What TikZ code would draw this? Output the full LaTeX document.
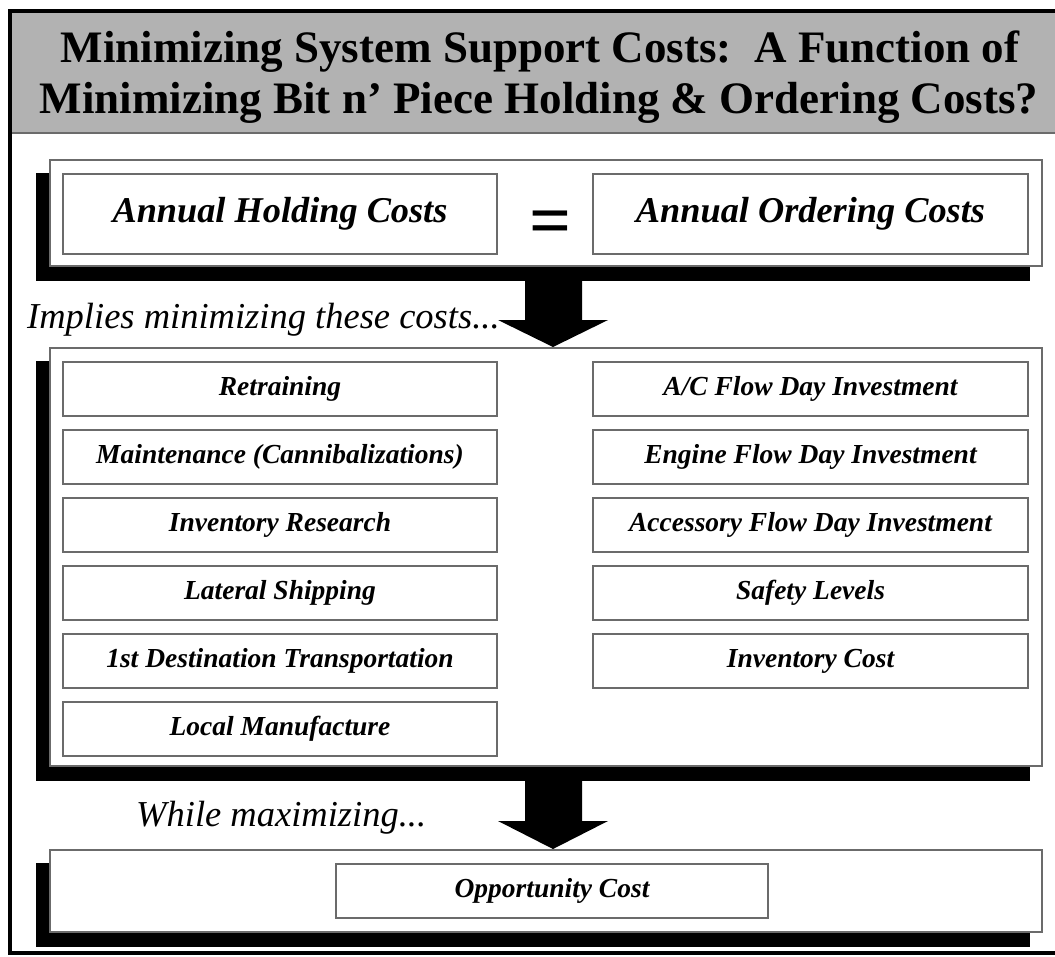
\documentclass[tikz,border=0pt]{standalone}
\usepackage{fontspec}
\setmainfont{Liberation Serif}
\usetikzlibrary{calc,backgrounds}
\definecolor{bandgray}{gray}{0.70}
\definecolor{edgegray}{gray}{0.42}
\begin{document}
\begin{tikzpicture}[x=1pt,y=-1pt,
  panel/.style={draw=edgegray,line width=2pt,fill=white,inner sep=0pt,minimum width=992pt},
  costbox/.style={draw=edgegray,line width=1.8pt,fill=white,inner sep=0pt,minimum height=54pt,
    font=\fontsize{27.5}{30}\selectfont\bfseries\itshape},
  leftbox/.style={costbox,minimum width=434pt},
  rightbox/.style={costbox,minimum width=435pt},
  headbox/.style={costbox,minimum height=80pt,font=\fontsize{36.3}{40}\selectfont\bfseries\itshape},
  titleline/.style={anchor=base,inner sep=0pt,font=\fontsize{45}{50}\selectfont\bfseries},
  lead/.style={anchor=base west,inner sep=0pt,font=\fontsize{36.5}{40}\selectfont\itshape},
  blockarrow/.style={fill=black}]
\useasboundingbox (0,0) rectangle (1055,956);

% title band and frame
\fill[bandgray] (12,12) rectangle (1055,133);
\draw[edgegray,line width=1.5pt] (12,133) -- (1055,133);
\draw[line width=3.5pt] (1055,11) -- (10,11) -- (10,953) -- (1055,953);

\node[titleline] (title1) at (540,62) {Minimizing System Support Costs:\ \ A Function of};
\node[titleline] (title2) at (539,113) {Minimizing Bit n’ Piece Holding \& Ordering Costs?};

% balance of the two annual costs
\node[panel,minimum height=106pt] (topPanel) at (546,213) {};
\node[headbox,minimum width=434pt] (holding) at (280,214) {Annual Holding Costs};
\node[headbox,minimum width=435pt] (ordering) at (810.5,214) {Annual Ordering Costs};
\node[inner sep=0pt,font=\fontsize{74}{74}\selectfont\bfseries] (equals) at (551,228) {=};

\node[lead] (impliesLabel) at (27,328) {Implies minimizing these costs...};

% costs to be minimized
\node[panel,minimum height=418pt] (costPanel) at (546,557) {};
\node[leftbox] (retraining)  at (280,389) {Retraining};
\node[leftbox] (maintenance) at (280,457) {Maintenance (Cannibalizations)};
\node[leftbox] (invResearch) at (280,525) {Inventory Research};
\node[leftbox] (lateral)     at (280,593) {Lateral Shipping};
\node[leftbox] (firstDest)   at (280,661) {1st Destination Transportation};
\node[leftbox] (localMfg)    at (280,729) {Local Manufacture};
\node[rightbox] (acFlow)     at (810.5,389) {A/C Flow Day Investment};
\node[rightbox] (engFlow)    at (810.5,457) {Engine Flow Day Investment};
\node[rightbox] (accFlow)    at (810.5,525) {Accessory Flow Day Investment};
\node[rightbox] (safety)     at (810.5,593) {Safety Levels};
\node[rightbox] (invCost)    at (810.5,661) {Inventory Cost};

\node[lead] (whileLabel) at (136,826) {While maximizing...};

% what is maximized
\node[panel,minimum height=82pt] (gainPanel) at (546,891) {};
\node[costbox,minimum width=432pt] (opportunity) at (552,891) {Opportunity Cost};

\coordinate (tipA) at ($(costPanel.north)+(7,0)$);
\coordinate (tipB) at ($(gainPanel.north)+(7,0)$);

\begin{scope}[on background layer]
  % offset shadows behind the panels
  \foreach \p in {topPanel,costPanel,gainPanel}
    \fill ($(\p.north west)+(-13,14)$) rectangle ($(\p.south east)+(-13,14)$);
  % block arrows between the panels
  \fill[blockarrow] (tipA) -- ($(tipA)+(-55,-27)$) -- ($(tipA)+(-28,-27)$)
    -- ($(tipA |- topPanel.south)+(-28,0)$) -- ($(tipA |- topPanel.south)+(29,0)$)
    -- ($(tipA)+(29,-27)$) -- ($(tipA)+(55,-27)$) -- cycle;
  \fill[blockarrow] (tipB) -- ($(tipB)+(-55,-28)$) -- ($(tipB)+(-28,-28)$)
    -- ($(tipB |- costPanel.south)+(-28,0)$) -- ($(tipB |- costPanel.south)+(29,0)$)
    -- ($(tipB)+(29,-28)$) -- ($(tipB)+(55,-28)$) -- cycle;
\end{scope}
\end{tikzpicture}
\end{document}
